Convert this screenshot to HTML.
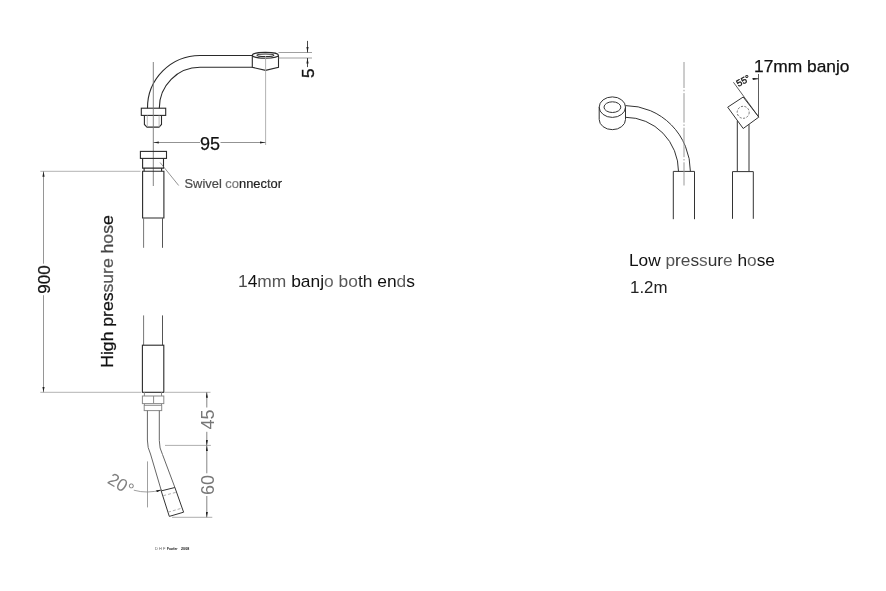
<!DOCTYPE html>
<html><head><meta charset="utf-8"><style>
html,body{margin:0;padding:0;background:#fff;}
svg{display:block;will-change:transform;}
text{font-family:"Liberation Sans",sans-serif;}
</style></head><body>
<svg width="886" height="591" viewBox="0 0 886 591">
<defs>
<marker id="ar" viewBox="0 0 10 4" refX="10" refY="2" markerWidth="6" markerHeight="2.2" markerUnits="userSpaceOnUse" orient="auto"><path d="M0,0 L10,2 L0,4 z" fill="#222"/></marker>
</defs>
<!-- ===== LEFT: top fitting ===== -->
<g fill="none" stroke="#2a2a2a" stroke-width="1.1">
<path d="M147.5,108.2 A52.5,52.5 0 0 1 200,55.5 L252.3,55.5"/>
<path d="M159.3,108.2 A40.7,40.7 0 0 1 200,67.3 L252.3,67.3"/>
<ellipse cx="265.4" cy="55.3" rx="13.1" ry="2.9"/>
<ellipse cx="265.4" cy="55.3" rx="8.5" ry="1.3"/>
<path d="M252.3,55.4 V67.3 L265.6,70.4 L278.5,67.3 V55.4"/>
<rect x="141.3" y="108.2" width="24.4" height="7.2"/>
<path d="M144.4,115.4 V124.5 L147,127.1 H159 L161.5,124.5 V115.4"/>
</g>
<g fill="none" stroke="#aaa" stroke-width="0.8">
<path d="M147.3,115.4 V127 M159.1,115.4 V127"/>
</g>
<!-- center lines -->
<g fill="none" stroke="#777" stroke-width="0.9">
<path d="M153.3,62 V186"/>
<path d="M265.6,56 V145" stroke="#aaa"/>
</g>
<!-- dim 5 -->
<g fill="none" stroke="#888" stroke-width="0.8">
<path d="M278.5,52.5 H312 M278.5,58 H312"/>
</g>
<g fill="none" stroke="#333" stroke-width="0.9">
<path d="M307.5,40.9 V52.5" marker-end="url(#ar)"/>
<path d="M307.5,67.1 V58" marker-end="url(#ar)"/>
</g>
<text x="0" y="0" font-size="17" fill="#111" stroke="#111" stroke-width="0.35" text-anchor="middle" transform="translate(314.2,73.2) rotate(-90)">5</text>
<!-- dim 95 -->
<g fill="none" stroke="#777" stroke-width="0.8">
<path d="M200,142.5 H153.3" marker-end="url(#ar)"/>
<path d="M220.5,142.5 H265.5" marker-end="url(#ar)"/>
</g>
<text x="210" y="149.7" font-size="18" fill="#111" stroke="#111" stroke-width="0.25" text-anchor="middle">95</text>
<!-- swivel connector -->
<g fill="none" stroke="#2a2a2a" stroke-width="1.1">
<rect x="140.4" y="151.4" width="26.1" height="7"/>
<path d="M142.6,158.4 V168.1 H163.5 V158.4"/>
<path d="M144.1,168.1 V171.2 M161.6,168.1 V171.2"/>
<path d="M142.6,218 V171.2 H163.9 V218 Z"/>
<path d="M143.6,218 V247.8 M143.6,315.4 V345.2" stroke="#777" stroke-width="1"/>
<path d="M162.5,218 V247.8 M162.5,315.4 V345.2" stroke="#555" stroke-width="1"/>
<rect x="142.4" y="345.2" width="21.4" height="47.1"/>
</g>
<path d="M160.1,162.5 L178.7,185.5" stroke="#666" stroke-width="0.7" fill="none"/>
<text x="184.5" y="188" font-size="13" fill="#333" stroke-width="0.2" textLength="97.5" lengthAdjust="spacingAndGlyphs"><tspan fill="#4a4a4a" stroke="#4a4a4a">Swivel</tspan> <tspan fill="#777" stroke="#777">co</tspan><tspan fill="#222" stroke="#222">nnec</tspan><tspan fill="#444" stroke="#444">t</tspan><tspan fill="#222" stroke="#222">or</tspan></text>
<!-- lower connector -->
<g fill="none" stroke="#8a8a8a" stroke-width="1">
<path d="M144.4,392.3 V396 M161.5,392.3 V396"/>
<rect x="142.4" y="396" width="21.4" height="7.6"/>
<path d="M153.6,396 V403.6"/>
<path d="M144.4,403.6 V405.3 M161.5,403.6 V405.3"/>
<rect x="144.2" y="405.3" width="17.5" height="5.3"/>
</g>
<g fill="none" stroke="#666" stroke-width="1">
<path d="M147.4,410.6 V440 Q147.4,448 150.5,454 L161.4,490.9"/>
<path d="M159.3,410.6 V440.5 Q159.3,448.5 162.5,454.5 L174.9,487.5"/>
<path d="M161.2,490.9 L174.9,487.5 L183.6,512.2 L169.3,516.4 Z" stroke="#333"/>
</g>
<g fill="none" stroke="#999" stroke-width="0.8" stroke-dasharray="3,2">
<path d="M163.2,495.7 L175.7,492.4 M168,512.2 L181,508.4"/>
</g>
<!-- dim 900 -->
<g fill="none" stroke="#aaa" stroke-width="0.9">
<path d="M40.3,171.3 H140.5 M40.3,392.3 H141 M165,392.3 H210.5"/>
</g>
<g fill="none" stroke="#8a8a8a" stroke-width="0.9">
<path d="M43.5,263.7 V171.3" marker-end="url(#ar)"/>
<path d="M43.5,295.2 V392.3" marker-end="url(#ar)"/>
</g>
<text x="0" y="0" font-size="17" fill="#111" stroke="#111" stroke-width="0.25" text-anchor="middle" transform="translate(49.9,279.5) rotate(-90)">900</text>
<text x="0" y="0" font-size="17" fill="#111" stroke="#111" stroke-width="0.25" textLength="152.5" lengthAdjust="spacingAndGlyphs" text-anchor="middle" transform="translate(113.2,291.5) rotate(-90)"><tspan>High pres</tspan><tspan fill="#555" stroke="#555">sure</tspan><tspan fill="#444" stroke="#444"> h</tspan><tspan fill="#5a5a5a" stroke="#5a5a5a">o</tspan><tspan fill="#444" stroke="#444">s</tspan><tspan>e</tspan></text>
<!-- dim 45 / 60 -->
<g fill="none" stroke="#999" stroke-width="0.8">
<path d="M165,445.4 H210.9 M172,517.3 H212.3"/>
</g>
<g fill="none" stroke="#666" stroke-width="0.8">
<path d="M206.8,407.5 V392.3" marker-end="url(#ar)"/>
<path d="M206.8,431.8 V445.4" marker-end="url(#ar)"/>
<path d="M206.8,473.3 V445.4" marker-end="url(#ar)"/>
<path d="M206.8,496 V517.3" marker-end="url(#ar)"/>
</g>
<text x="0" y="0" font-size="18" fill="#777" text-anchor="middle" transform="translate(213.6,419.4) rotate(-90)">45</text>
<text x="0" y="0" font-size="18" fill="#777" text-anchor="middle" transform="translate(213.8,484.9) rotate(-90)">60</text>
<!-- angle 20 -->
<path d="M147.5,461.4 V507.4" stroke="#888" stroke-width="0.8" fill="none"/>
<path d="M133.8,490.2 Q147.5,494 161.8,489.8" stroke="#888" stroke-width="0.8" fill="none" marker-end="url(#ar)"/>
<text x="0" y="0" font-size="17.5" fill="#808080" transform="translate(106.5,482.5) rotate(31)">20°</text>
<!-- footer -->
<text x="155" y="550.1" font-size="4.2" fill="#555" textLength="10.3" lengthAdjust="spacingAndGlyphs">D H F</text>
<text x="167.1" y="550.1" font-size="4.2" font-weight="bold" fill="#111" textLength="10.4" lengthAdjust="spacingAndGlyphs">Fowler</text>
<text x="181.1" y="550.1" font-size="4.2" font-weight="bold" fill="#111" textLength="8.1" lengthAdjust="spacingAndGlyphs">2008</text>
<!-- texts -->
<text x="238" y="286.8" font-size="17" fill="#222" textLength="177" lengthAdjust="spacingAndGlyphs"><tspan fill="#4a4a4a">1</tspan><tspan fill="#111">4</tspan><tspan fill="#555">mm</tspan><tspan fill="#111"> banj</tspan><tspan fill="#666">o</tspan><tspan fill="#111"> </tspan><tspan fill="#555">b</tspan><tspan fill="#606060">o</tspan><tspan fill="#222">th</tspan><tspan fill="#111"> en</tspan><tspan fill="#606060">d</tspan><tspan fill="#111">s</tspan></text>
<!-- ===== RIGHT ===== -->
<g fill="none" stroke="#333" stroke-width="1">
<ellipse cx="612.35" cy="107.15" rx="13.15" ry="10.25"/>
<ellipse cx="612.4" cy="107.15" rx="8.4" ry="5.35"/>
<path d="M599.2,107.15 V119.4 A13.15,10.25 0 0 0 625.5,119.4 V107.15"/>
<path d="M625.5,105.6 A65,66 0 0 1 690.4,171.5"/>
<path d="M625.5,117.3 A53,54.2 0 0 1 678.5,171.5"/>
<path d="M673.3,219.2 V171.4 H694.5 V219.2"/>
<path d="M732.5,218.8 V171.6 H753.3 V218.8"/>
<path d="M737.3,120.8 V171.6 M749,124.3 V171.6"/>
<path d="M727.7,107.2 L743.2,97 L758.8,117.1 L743.2,128.5 Z"/>
</g>
<circle cx="743.2" cy="112.3" r="6" fill="none" stroke="#555" stroke-width="0.8" stroke-dasharray="2.2,1.4"/>
<path d="M684,62 V185.5" stroke="#9a9a9a" stroke-width="1" stroke-dasharray="29.5,1.8,1.5,1.8" stroke-dashoffset="3.5" fill="none"/>
<g fill="none" stroke="#333" stroke-width="0.8">
<path d="M758.5,117.1 V74"/>
<path d="M758.8,117.1 L733.4,82.2"/>
<path d="M752,78.8 H758.5" marker-end="url(#ar)"/>
</g>
<text x="0" y="0" font-size="9.5" fill="#111" stroke="#111" stroke-width="0.3" text-anchor="middle" transform="translate(744.8,83.6) rotate(-29)">55°</text>
<text x="754" y="71.8" font-size="17" fill="#111" stroke="#111" stroke-width="0.25" textLength="95.5" lengthAdjust="spacingAndGlyphs">17mm banjo</text>
<text x="629" y="266.3" font-size="16" fill="#111" textLength="146" lengthAdjust="spacingAndGlyphs"><tspan fill="#111">Low </tspan><tspan fill="#555">p</tspan><tspan fill="#333">r</tspan><tspan fill="#4a4a4a">e</tspan><tspan fill="#3a3a3a">s</tspan><tspan fill="#606060">s</tspan><tspan fill="#333">u</tspan><tspan fill="#222">r</tspan><tspan fill="#606060">e</tspan><tspan fill="#111"> h</tspan><tspan fill="#606060">o</tspan><tspan fill="#111">se</tspan></text>
<text x="630" y="293.2" font-size="16.5" fill="#222" textLength="37.5" lengthAdjust="spacingAndGlyphs">1.2m</text>
</svg>
</body></html>
